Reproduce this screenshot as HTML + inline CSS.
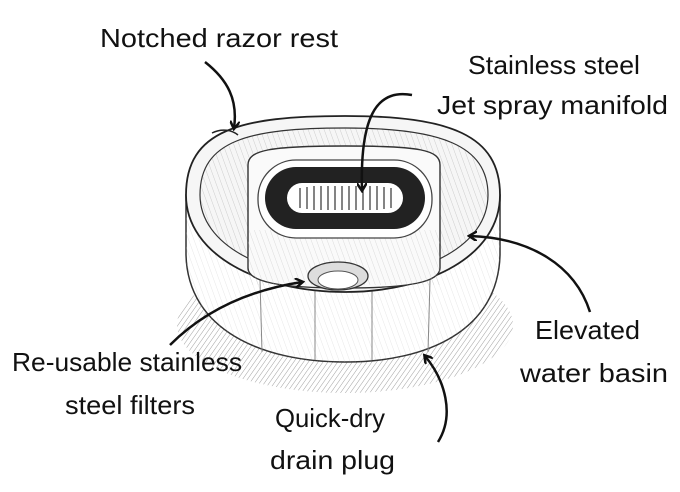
<!DOCTYPE html>
<html><head><meta charset="utf-8"><style>
html,body{margin:0;padding:0;background:#fff;}
svg{display:block}
text{font-family:"Liberation Sans",sans-serif;font-size:26px;fill:#111;}
</style></head><body>
<svg width="680" height="492" viewBox="0 0 680 492" xmlns="http://www.w3.org/2000/svg">
<defs>
<pattern id="h" width="4" height="4" patternUnits="userSpaceOnUse" patternTransform="rotate(35)">
<line x1="0" y1="0" x2="0" y2="4" stroke="#888" stroke-width="1"/></pattern>
<pattern id="h2" width="5" height="5" patternUnits="userSpaceOnUse" patternTransform="rotate(-20)">
<line x1="0" y1="0" x2="0" y2="5" stroke="#bbb" stroke-width="0.7"/></pattern>
<marker id="a" markerWidth="10" markerHeight="10" refX="7" refY="5" orient="auto" markerUnits="userSpaceOnUse">
<path d="M0,0 L8,5 L0,10" fill="none" stroke="#111" stroke-width="2.5"/></marker>
</defs>
<ellipse cx="345" cy="325" rx="168" ry="68" fill="url(#h)" opacity="0.8"/>
<path d="M186,195 L186,255 C188,330 262,362 345,362 C428,362 498,330 500,255 L500,195 Z" fill="#fff" stroke="#333" stroke-width="1.5"/>
<path d="M186,215 L186,255 C188,330 262,362 345,362 C428,362 498,330 500,255 L500,215" fill="url(#h2)" opacity="0.5"/>
<line x1="260" y1="280" x2="262" y2="352" stroke="#888"/>
<line x1="315" y1="290" x2="315" y2="360" stroke="#888"/>
<line x1="372" y1="290" x2="372" y2="360" stroke="#888"/>
<line x1="430" y1="280" x2="428" y2="352" stroke="#888"/>
<path d="M186,195 C186,130 240,116 345,116 C450,116 500,135 500,195 C500,255 430,292 345,292 C260,292 186,255 186,195 Z" fill="#f6f6f6" stroke="#222" stroke-width="1.8"/>
<path d="M200,195 C200,140 250,128 345,128 C440,128 488,145 488,195 C488,245 425,278 345,278 C265,278 200,245 200,195 Z" fill="url(#h2)" stroke="#333" stroke-width="1.2"/>
<path d="M212,133 C222,128 232,130 238,135" fill="none" stroke="#222" stroke-width="1.5"/>
<path d="M248,165 C248,150 270,146 345,146 C420,146 440,150 440,165 L440,268 C440,282 410,288 345,288 C280,288 248,282 248,268 Z" fill="#fafafa" stroke="#333" stroke-width="1.4"/>
<rect x="248" y="230" width="192" height="55" fill="url(#h2)" opacity="0.7"/>
<rect x="258" y="160" width="174" height="78" rx="38" fill="#fff" stroke="#444" stroke-width="1.3"/>
<rect x="265" y="167" width="160" height="62" rx="31" fill="#222"/>
<rect x="287" y="183" width="116" height="30" rx="15" fill="#fff"/>
<g stroke="#333" stroke-width="1.2">
<line x1="300" y1="188" x2="300" y2="208"/><line x1="307" y1="187" x2="307" y2="209"/><line x1="314" y1="186" x2="314" y2="210"/><line x1="321" y1="186" x2="321" y2="210"/><line x1="328" y1="186" x2="328" y2="210"/><line x1="335" y1="186" x2="335" y2="210"/><line x1="342" y1="186" x2="342" y2="210"/><line x1="349" y1="186" x2="349" y2="210"/><line x1="356" y1="186" x2="356" y2="210"/><line x1="363" y1="186" x2="363" y2="210"/><line x1="370" y1="186" x2="370" y2="210"/><line x1="377" y1="186" x2="377" y2="210"/><line x1="384" y1="187" x2="384" y2="209"/><line x1="391" y1="188" x2="391" y2="208"/>
</g>
<ellipse cx="338" cy="276" rx="30" ry="14" fill="#ddd" stroke="#333" stroke-width="1.3"/>
<ellipse cx="338" cy="280" rx="20" ry="9" fill="#fff" stroke="#555"/>
<text x="100" y="47" textLength="238" lengthAdjust="spacingAndGlyphs">Notched razor rest</text>
<text x="468" y="74" textLength="172" lengthAdjust="spacingAndGlyphs">Stainless steel</text>
<text x="437" y="114" textLength="231" lengthAdjust="spacingAndGlyphs">Jet spray manifold</text>
<text x="535" y="339" textLength="105" lengthAdjust="spacingAndGlyphs">Elevated</text>
<text x="520" y="382" textLength="148" lengthAdjust="spacingAndGlyphs">water basin</text>
<text x="12" y="371" textLength="230" lengthAdjust="spacingAndGlyphs">Re-usable stainless</text>
<text x="65" y="414" textLength="130" lengthAdjust="spacingAndGlyphs">steel filters</text>
<text x="275" y="427" textLength="110" lengthAdjust="spacingAndGlyphs">Quick-dry</text>
<text x="270" y="469" textLength="125" lengthAdjust="spacingAndGlyphs">drain plug</text>
<g fill="none" stroke="#111" stroke-width="2.5" marker-end="url(#a)">
<path d="M205,62 C228,80 238,100 234,128"/>
<path d="M412,95 C375,88 360,120 362,190"/>
<path d="M590,312 C575,265 530,238 470,236"/>
<path d="M170,345 C205,310 250,290 302,282"/>
<path d="M438,442 C455,415 445,380 425,356"/>
</g>
</svg>
</body></html>
